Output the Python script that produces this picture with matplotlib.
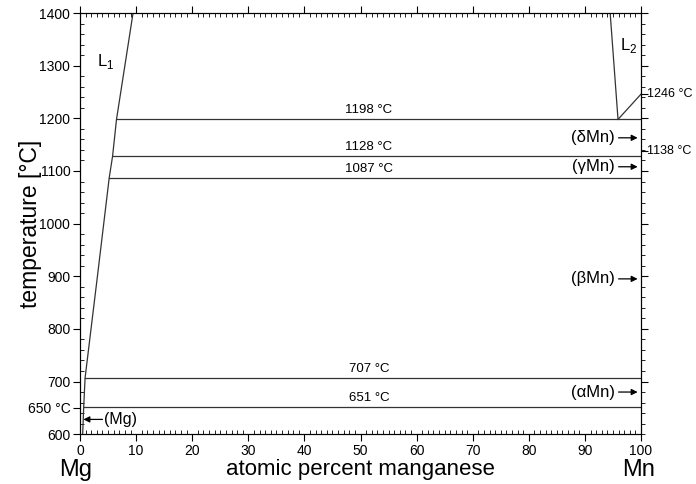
import matplotlib
matplotlib.use("Agg")
import matplotlib.pyplot as plt
from matplotlib.ticker import MultipleLocator, FixedLocator

plt.rcParams['font.family'] = ['Liberation Sans', 'DejaVu Sans']

# Liquidus / solvus on the Mg side
l1_x = [0.47, 0.65, 0.9, 3.1, 5.2, 5.8, 6.5, 9.45]
l1_t = [600, 651, 707, 900, 1087, 1128, 1198, 1400]
# L2 liquidus on the Mn side
l2_x = [94.5, 95.9]
l2_t = [1400, 1198]
# line from monotectic to Mn melting point
mn_x = [95.9, 100]
mn_t = [1198, 1246]
# invariant horizontal lines: temperature, starting composition
iso_t = [1198, 1128, 1087, 707, 651]
iso_x0 = [6.5, 5.8, 5.2, 0.9, 0.65]
iso_labels = ['1198 °C', '1128 °C', '1087 °C', '707 °C', '651 °C']
# phase labels on Mn side
mn_phases = ['(δMn)', '(γMn)', '(βMn)', '(αMn)']
mn_phase_t = [1163, 1108, 895, 680]

fig = plt.figure(figsize=(6.96, 4.84), dpi=100)
ax = fig.add_axes([0.115, 0.103, 0.806, 0.870])

lw = 0.9
ax.plot(l1_x, l1_t, color='#333333', lw=lw)
ax.plot(l2_x, l2_t, color='#333333', lw=lw)
ax.plot(mn_x, mn_t, color='#333333', lw=lw)
for t, x0, lab in zip(iso_t, iso_x0, iso_labels):
    ax.plot([x0, 100], [t, t], color='#333333', lw=lw)
    ax.text(51.5, t + 6, lab, ha='center', va='bottom', fontsize=9.5)

ax.set_xlim(0, 100)
ax.set_ylim(600, 1400)

ax.xaxis.set_major_locator(MultipleLocator(10))
ax.xaxis.set_minor_locator(MultipleLocator(1))
yt = [600, 650, 700, 800, 900, 1000, 1100, 1200, 1300, 1400]
ax.yaxis.set_major_locator(FixedLocator(yt))
ax.set_yticklabels(['600', '650 °C', '700', '800', '900', '1000', '1100', '1200', '1300', '1400'])
ax.yaxis.set_minor_locator(MultipleLocator(20))

ax.tick_params(axis='both', which='major', direction='out', length=5, width=0.8,
               labelsize=10, top=True, right=False)
ax.tick_params(axis='both', which='minor', direction='in', length=3, width=0.6,
               top=True, right=False)
ax.tick_params(axis='x', which='major', labeltop=False, pad=2)
ax.tick_params(axis='y', which='major', pad=2)

# right axis ticks (outward)
axr = ax.twinx()
axr.set_ylim(600, 1400)
axr.yaxis.set_major_locator(FixedLocator([700, 800, 900, 1000, 1100, 1138, 1200, 1246, 1300, 1400]))
axr.yaxis.set_minor_locator(MultipleLocator(20))
axr.tick_params(axis='y', which='major', direction='out', length=5, width=0.8, labelright=False)
axr.tick_params(axis='y', which='minor', direction='out', length=3, width=0.6)

for sp in ax.spines.values():
    sp.set_linewidth(0.8)
for sp in axr.spines.values():
    sp.set_linewidth(0.8)

ax.text(101, 1246, '1246 °C', ha='left', va='center', fontsize=9)
ax.text(101, 1138, '1138 °C', ha='left', va='center', fontsize=9)

for lab, t in zip(mn_phases, mn_phase_t):
    ax.annotate('', xy=(99.4, t), xytext=(96.0, t),
                arrowprops=dict(arrowstyle='-|>', color='black', lw=0.9,
                                mutation_scale=9, shrinkA=0, shrinkB=0))
    ax.text(95.3, t, lab, ha='right', va='center', fontsize=12)

ax.annotate('', xy=(0.6, 628), xytext=(4.0, 628),
            arrowprops=dict(arrowstyle='-|>', color='black', lw=0.9,
                            mutation_scale=9, shrinkA=0, shrinkB=0))
ax.text(4.2, 628, '(Mg)', ha='left', va='center', fontsize=11.5)

ax.text(3.0, 1308, 'L$_{\\mathregular{1}}$', ha='left', va='center', fontsize=12)
ax.text(96.2, 1338, 'L$_{\\mathregular{2}}$', ha='left', va='center', fontsize=12)

ax.set_xlabel('atomic percent manganese', fontsize=16, va='center')
ax.xaxis.set_label_coords(0.5, -0.085)
ax.set_ylabel('temperature [°C]', fontsize=16.5, va='center')
ax.yaxis.set_label_coords(-0.089, 0.5)
ax.text(-0.7, -0.085, 'Mg', transform=ax.get_xaxis_transform(), ha='center', va='center', fontsize=17)
ax.text(99.5, -0.085, 'Mn', transform=ax.get_xaxis_transform(), ha='center', va='center', fontsize=17)

fig.savefig('out.png', dpi=100)
